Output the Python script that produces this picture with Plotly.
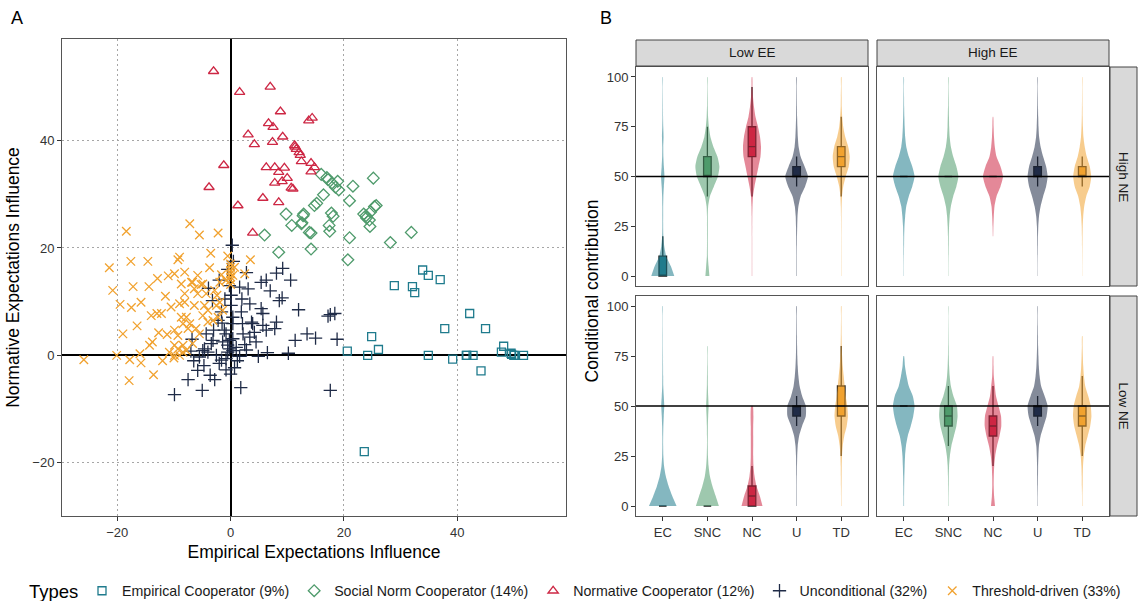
import plotly.graph_objects as go

W, H = 1141, 601
FONT = "Liberation Sans"

# ---------------- data: panel A (scatter) ----------------
TYPES = ["Empirical Cooperator (9%)", "Social Norm Cooperator (14%)",
         "Normative Cooperator (12%)", "Unconditional (32%)", "Threshold-driven (33%)"]
LEGEND_TITLE = "Types"
CODES = ["EC", "SNC", "NC", "U", "TD"]

ec_x = [33.9, 34.9, 37.0, 28.9, 32.1, 32.5, 42.2, 37.8, 45.0, 24.9, 26.1, 20.6, 24.2, 34.9,
        39.2, 41.6, 42.8, 44.2, 48.2, 47.8, 49.5, 50.0, 51.7, 49.6, 23.6, 50.1, 41.7]
ec_y = [15.9, 14.9, 14.1, 13.0, 12.8, 11.7, 7.8, 5.0, 5.0, 3.5, 1.1, 0.8, 0.0, 0.0,
        -0.7, 0.0, 0.0, -2.9, 1.7, 0.6, 0.4, 0.0, 0.0, 0.2, -17.9, 0.0, 0.0]

snc_x = [16.0, 17.2, 17.9, 18.9, 18.5, 19.1, 21.6, 25.2, 16.4, 14.8, 21.0, 12.8, 12.5, 17.8,
         18.1, 17.4, 17.5, 14.2, 14.2, 21.0, 20.7, 23.5, 23.9, 24.7, 25.4, 25.7, 24.5, 24.6,
         28.2, 31.9, 9.8, 10.8, 6.0, 8.5, 13.9, 12.9, 12.6, 17.0, 24.0, 15.2]
snc_y = [33.7, 32.7, 32.1, 32.4, 31.3, 30.8, 31.5, 33.0, 29.9, 27.9, 28.8, 26.0, 24.5, 26.5,
         25.9, 24.2, 23.1, 22.8, 19.8, 21.9, 17.8, 26.3, 26.0, 26.7, 27.7, 27.9, 25.2, 24.0,
         21.0, 22.9, 26.3, 24.2, 22.4, 19.2, 22.9, 26.3, 24.7, 33.1, 25.6, 28.3]

nc_x = [-3.0, 1.6, 7.0, 8.8, 6.7, 7.5, 9.2, 3.1, 4.2, 7.4, 11.3, 11.6, 12.1, 12.5, -1.2, -3.8,
        1.3, 3.9, 6.3, 7.8, 9.5, 8.5, 10.0, 9.1, 7.8, 10.7, 11.0, 5.7, 8.5, 13.8, 14.4, 14.2,
        14.8, 14.2, 11.4, 12.3]
nc_y = [52.9, 49.0, 50.0, 45.4, 43.2, 42.5, 40.7, 41.1, 39.3, 39.7, 39.1, 38.4, 37.8, 36.1,
        35.4, 31.3, 27.9, 22.8, 35.0, 35.0, 34.9, 34.1, 33.0, 32.4, 32.1, 31.2, 31.0, 29.3,
        28.5, 43.7, 44.2, 35.8, 35.0, 34.2, 38.8, 37.3]

u_x = [-9.9, -5.0, 1.8, -3.6, -5.8, -4.7, -0.8, 0.7, -5.5, -4.0, -1.6, -0.8, 1.6, 4.9, 10.2,
       11.4, -0.2, -0.5, 0.4, -2.5, -4.6, -3.4, -4.3, -3.0, -1.4, -1.1, 0.4, 2.2, 3.4, 4.2,
       6.3, 7.8, 8.1, 5.7, 3.9, 2.1, 0.4, 0.4, 1.9, 3.4, 3.1, 5.7, 5.4, 3.7, -1.6, -2.2, 0.1,
       0.1, -0.2, 1.6, 8.6, 9.1, 5.4, 6.3, -0.8, -0.2, -0.5, -3.1, -4.9, 17.2, 17.6, 18.4,
       18.8, 17.6, 0.3, 0.5, 2.8, 8.1, 9.2, 10.6, -3.9, -3.2, -1.0, 1.0, 2.8, -2.0, -6.5,
       -7.5, -2.8, 0.0, 2.5, 1.2, -1.5, 4.5, 6.5, 13.5, 15.0, -6.8, -7.0, 2.0, 7.0, 12.0,
       -2.0, -0.5]
u_y = [-7.3, -6.5, -6.0, -3.7, -2.8, -1.9, -2.7, -2.3, -0.3, 0.6, -0.9, -0.6, -0.2, -0.2, 0.4,
       2.8, 1.2, 0.6, 0.9, 0.0, 1.2, 2.2, 4.0, 4.7, 2.5, 4.7, 3.1, 4.0, 3.4, 4.3,
       4.7, 5.0, 6.2, 5.6, 5.9, 5.9, 5.9, 7.1, 8.1, 9.6, 12.4, 7.8, 8.7, 6.2, 8.1, 6.5, 9.3,
       11.2, 13.0, 12.7, 10.2, 10.7, 13.6, 14.0, 4.0, 2.8, 1.9, 2.8, 0.9, 7.3, 7.6, 7.8,
       3.0, -6.5, 20.5, 17.5, 15.4, 15.3, 16.2, 14.0, 12.5, 10.2, 10.5, 1.5, 1.0, -1.5, -1.0,
       -4.5, -4.5, -3.5, 2.0, -1.0, 6.0, 2.5, 0.5, 4.0, 3.2, 3.0, 0.8, 10.5, 12.0, 8.5,
       14.0, 16.0]

td_x = [-18.4, -7.2, -5.5, -2.2, 3.5, -21.4, -17.6, -14.6, -9.3, -9.0, -12.9, -9.9, -8.1, -5.8,
        -3.7, -1.6, -6.7, -5.2, -8.7, -17.2, -14.4, 0.0, 0.0, 0.0, 0.0, 0.0, 0.0, 0.7, 0.4, 2.5,
        -20.8, -17.5, -15.8, -14.0, -13.0, -12.2, -12.7, -11.2, -14.3, -13.8, -20.1, -17.8,
        -15.8, -25.9, -17.9, -13.6, -10.8, -9.9, -9.0, -8.4, -9.9, -8.4, -9.9, -9.3, -8.4,
        -7.2, -7.5, -6.7, -5.5, -8.7, -7.8, -9.0, -8.1, -6.4, -8.1, -5.8, -4.9, -4.3, -4.6,
        -4.0, -4.9, -2.8, -2.4, -1.9, -2.5, -3.1, -2.2, -1.4, -4.0, -6.1, -7.8, -9.3, -0.8,
        -1.9, -6.9, -6.4, -11.5, -19.5, -16.5, -10.5, -11.0, -3.5, -0.5, 0.0, -16.0, -12.0,
        -10.0, -19.0]
td_y = [23.1, 24.5, 22.4, 22.8, 17.8, 16.3, 17.5, 17.5, 17.8, 18.3, 14.3, 15.2, 15.5, 14.9,
        16.3, 15.0, 13.6, 13.2, 13.3, 12.8, 12.8, 17.0, 16.4, 15.8, 15.2, 14.6, 14.0, 16.4, 14.9,
        15.2, 12.1, 8.9, 9.9, 7.4, 7.8, 7.8, 4.2, 3.9, 1.9, 2.5, 0.0, -0.8,
        -1.4, -0.8, -4.7, -3.6, 0.6, 0.0, 0.0, 0.6, 1.9, 1.9, 4.7, 3.7, 5.9,
        5.9, 5.0, 2.2, 4.0, 7.1, 7.1, 9.6, 9.9, 9.3, 11.5, 11.5, 13.3, 11.5, 9.3,
        8.4, 7.4, 12.1, 11.2, 9.9, 9.3, 6.5, 7.1, 8.4, 6.2, 5.0, 0.9, 1.2, 14.0,
        13.6, 13.6, 12.4, 11.0, 9.5, 5.5, 9.0, 14.8, 19.0, 18.5, 13.2, 0.3, -1.0,
        -0.5, 4.0]

# ---------------- data: panel B (violins + boxes) ----------------
FACET_COLS = ["Low EE", "High EE"]
FACET_ROWS = ["High NE", "Low NE"]
GRID = [0, 5, 10, 15, 20, 25, 30, 35, 40, 45, 50, 55, 60, 65, 70, 75, 80, 85, 90, 95, 100]

# density profiles (relative half-width) on GRID, per facet and type
dens_lowEE_highNE = {
    "EC":  [11.5, 8, 3.5, 1.5, 0.6, 0.4, 0.4, 0.4, 0.6, 1.1, 1.7, 1.1, 0.6, 0.5, 0.8, 0.5, 0.3, 0.25, 0.2, 0.15, 0.15],
    "SNC": [2, 1.2, 0.5, 0.4, 0.4, 0.4, 0.4, 0.8, 2.5, 6.5, 10.5, 12, 10, 6, 3, 1.5, 0.7, 0.4, 0.3, 0.2, 0.15],
    "NC":  [0.2, 0.2, 0.2, 0.2, 0.2, 0.25, 0.3, 0.5, 1, 2.5, 4.5, 6.5, 8.5, 9, 8, 6, 3.5, 2, 1, 0.5, 0.25],
    "U":   [0.25, 0.25, 0.25, 0.3, 0.4, 0.6, 0.9, 1.8, 4, 8.5, 11.3, 8, 4, 2, 1.2, 0.8, 0.5, 0.4, 0.3, 0.25, 0.2],
    "TD":  [0.15, 0.15, 0.15, 0.15, 0.15, 0.2, 0.25, 0.4, 0.8, 2, 4.5, 7.5, 8.5, 7, 4, 2, 1, 0.5, 0.4, 0.25, 0.2],
}
dens_highEE_highNE = {
    "EC":  [0.15, 0.15, 0.2, 0.3, 0.4, 0.7, 1.4, 2.5, 5, 8.5, 10.8, 8.5, 5, 2.5, 1.4, 0.9, 0.6, 0.4, 0.3, 0.2, 0.15],
    "SNC": [0.15, 0.15, 0.2, 0.3, 0.4, 0.7, 1.3, 2.5, 4.8, 8, 10, 8, 4.8, 2.5, 1.3, 0.8, 0.6, 0.4, 0.3, 0.2, 0.15],
    "NC":  [0, 0, 0, 0, 0.2, 0.4, 0.8, 1.5, 3.5, 7.5, 10, 7.5, 3.5, 1.8, 1, 0.6, 0.2, 0, 0, 0, 0],
    "U":   [0.15, 0.15, 0.2, 0.3, 0.4, 0.7, 1.4, 3, 5.5, 8.5, 10, 8.5, 5.5, 3, 1.5, 0.9, 0.6, 0.4, 0.3, 0.2, 0.15],
    "TD":  [0.1, 0.1, 0.15, 0.2, 0.3, 0.5, 1, 2, 4, 7.5, 9, 7.5, 4.5, 2.5, 1.2, 0.7, 0.4, 0.3, 0.2, 0.15, 0.1],
}
dens_lowEE_lowNE = {
    "EC":  [13.8, 9.5, 5.8, 3, 1.3, 0.6, 0.4, 0.4, 0.6, 1.0, 1.5, 1.0, 0.5, 0.4, 0.3, 0.25, 0.2, 0.2, 0.15, 0.15, 0.15],
    "SNC": [11.5, 8.3, 5, 2.5, 1.2, 0.6, 0.4, 0.4, 0.5, 0.8, 1.2, 0.8, 0.5, 0.4, 0.3, 0.2, 0.15, 0, 0, 0, 0],
    "NC":  [10.5, 7.8, 4.5, 2.5, 1.5, 1.2, 1.2, 1.2, 1.2, 1.4, 0.8, 0, 0, 0, 0, 0, 0, 0, 0, 0, 0],
    "U":   [0.25, 0.25, 0.25, 0.3, 0.4, 0.6, 1.1, 2.5, 5.5, 9.2, 9.2, 5.5, 3, 1.8, 1.1, 0.7, 0.5, 0.4, 0.3, 0.25, 0.2],
    "TD":  [0.2, 0.2, 0.3, 0.4, 0.5, 0.8, 1.5, 3, 5.5, 6.7, 6, 4.5, 3.5, 2.5, 1.5, 0.9, 0.6, 0.4, 0.3, 0.2, 0.2],
}
dens_highEE_lowNE = {
    "EC":  [0.3, 0.3, 0.4, 0.6, 0.9, 1.3, 2.2, 4, 7, 9.5, 10.8, 9, 5, 2.8, 1.2, 0.3, 0, 0, 0, 0, 0],
    "SNC": [0.2, 0.2, 0.3, 0.4, 0.7, 1.5, 3, 5.5, 8, 9.2, 8.5, 5, 2.5, 1.3, 0.7, 0.4, 0.3, 0.2, 0.15, 0.1, 0.1],
    "NC":  [2, 1.1, 0.7, 0.8, 1.2, 2.2, 4, 6.5, 8.3, 8, 5.5, 3, 1.8, 0.8, 0.5, 0.2, 0, 0, 0, 0, 0],
    "U":   [0.2, 0.2, 0.3, 0.4, 0.5, 0.8, 1.3, 3, 6, 9, 10, 7, 3.5, 2, 1.2, 0.8, 0.5, 0.4, 0.3, 0.2, 0.15],
    "TD":  [0.2, 0.2, 0.4, 0.5, 0.8, 1.5, 3, 5.5, 8, 9.2, 8.5, 6, 3, 1.7, 1, 0.6, 0.35, 0.2, 0, 0, 0],
}

# box statistics per facet: [lower whisker, q1, median, q3, upper whisker] per type (EC, SNC, NC, U, TD)
box_lowEE_highNE = [[0, 0, 0, 10, 20], [40, 50, 50, 60, 75], [40, 60, 65, 75, 95], [45, 50, 50, 55, 60], [40, 55, 60, 65, 80]]
box_highEE_highNE = [[50, 50, 50, 50, 50], [50, 50, 50, 50, 50], [50, 50, 50, 50, 50], [45, 50, 50, 55, 60], [45, 50, 50, 55, 60]]
box_lowEE_lowNE = [[0, 0, 0, 0, 0], [0, 0, 0, 0, 0], [0, 0, 5, 10, 20], [40, 45, 50, 50, 55], [25, 45, 50, 60, 80]]
box_highEE_lowNE = [[50, 50, 50, 50, 50], [30, 40, 45, 50, 60], [20, 35, 40, 45, 60], [40, 45, 50, 50, 55], [25, 40, 45, 50, 65]]

REF_LINE = 50
Y_TICKS_B = [0, 25, 50, 75, 100]
X_TICKS_A = [-20, 0, 20, 40]

# ---------------- styles ----------------
COLORS = ["#1f7b8d", "#4f9b6c", "#cd2744", "#1f2b47", "#f1a22f"]
SYMBOLS = ["square-open", "diamond-open", "triangle-up-open", "cross-thin-open", "x-thin-open"]
SIZES = [8, 9, 9, 9.5, 8.5]
PX_PER_UNIT = 44.6   # facet x-axis: pixels per category unit
BOX_W = 0.17


def px_x(p):
    return p / W


def px_y(p):
    return 1 - p / H


def rgba(hexc, a):
    h = hexc.lstrip("#")
    return "rgba(%d,%d,%d,%.2f)" % (int(h[0:2], 16), int(h[2:4], 16), int(h[4:6], 16), a)


fig = go.Figure()

# ---- panel A ----
series = [(ec_x, ec_y), (snc_x, snc_y), (nc_x, nc_y), (u_x, u_y), (td_x, td_y)]
for i, (xs, ys) in enumerate(series):
    fig.add_trace(go.Scatter(
        x=xs, y=ys, mode="markers", name=TYPES[i],
        marker=dict(symbol=SYMBOLS[i], size=SIZES[i], color=COLORS[i],
                    line=dict(width=1.3, color=COLORS[i])),
        xaxis="x", yaxis="y", hoverinfo="skip"))

# ---- panel B ----
facets = [
    ("x2", "y2", dens_lowEE_highNE, box_lowEE_highNE),
    ("x3", "y3", dens_highEE_highNE, box_highEE_highNE),
    ("x4", "y4", dens_lowEE_lowNE, box_lowEE_lowNE),
    ("x5", "y5", dens_highEE_lowNE, box_highEE_lowNE),
]
for xa, ya, dens, boxes in facets:
    for i, code in enumerate(CODES):
        pos = i + 1
        pts = [(v, d) for v, d in zip(GRID, dens[code]) if d > 0]
        vs = [p[0] for p in pts]
        hw = [p[1] / PX_PER_UNIT for p in pts]
        xs = [pos + h for h in hw] + [pos - h for h in reversed(hw)]
        ys = vs + vs[::-1]
        fig.add_trace(go.Scatter(
            x=xs, y=ys, mode="lines", fill="toself",
            fillcolor=rgba(COLORS[i], 0.55),
            line=dict(width=0, shape="spline", smoothing=0.6, color=rgba(COLORS[i], 0.55)),
            xaxis=xa, yaxis=ya, showlegend=False, hoverinfo="skip"))
    for i, code in enumerate(CODES):
        lo, q1, med, q3, hi = boxes[i]
        fig.add_trace(go.Box(
            x=[i + 1], lowerfence=[lo], q1=[q1], median=[med], q3=[q3], upperfence=[hi],
            width=BOX_W, fillcolor=COLORS[i], line=dict(color="#1a1a1a", width=1.3),
            whiskerwidth=0, boxpoints=False, xaxis=xa, yaxis=ya,
            showlegend=False, hoverinfo="skip"))

# ---------------- layout ----------------
tickfont = dict(family=FONT, size=13, color="#333333")
titlefont = dict(family=FONT, size=17.5, color="#000000")

A_X = [px_x(62), px_x(566)]
A_Y = [px_y(516), px_y(39)]
COL1 = [px_x(636), px_x(868)]
COL2 = [px_x(877), px_x(1109)]
ROW1 = [px_y(286), px_y(67)]
ROW2 = [px_y(516), px_y(296)]

GRID_STYLE = dict(showgrid=True, gridcolor="#a6a6a6", griddash="1.5px,3.5px", gridwidth=1.3)

layout = dict(
    width=W, height=H, margin=dict(l=0, r=0, t=0, b=0, autoexpand=False),
    paper_bgcolor="white", plot_bgcolor="white",
    font=dict(family=FONT, color="#000000"),
    boxmode="overlay",
    xaxis=dict(domain=A_X, range=[-29.75, 59.2], tickvals=X_TICKS_A, ticks="outside", ticklen=4,
               tickcolor="#333333", tickfont=tickfont, zeroline=True, zerolinecolor="#000000",
               zerolinewidth=1.6, showline=True, mirror=True, linecolor="#555555", linewidth=1,
               title=dict(text="Empirical Expectations Influence", font=titlefont, standoff=7),
               anchor="y", automargin=False, **GRID_STYLE),
    yaxis=dict(domain=A_Y, range=[-29.9, 58.9], tickvals=X_TICKS_A, ticks="outside", ticklen=4,
               tickcolor="#333333", tickfont=tickfont, zeroline=True, zerolinecolor="#000000",
               zerolinewidth=1.6, showline=True, mirror=True, linecolor="#555555", linewidth=1,
               title=dict(text="Normative Expectations Influence", font=titlefont, standoff=8),
               anchor="x", automargin=False, **GRID_STYLE),
    legend=dict(orientation="h", x=px_x(1126), xanchor="right", y=px_y(591), yanchor="middle",
                font=dict(family=FONT, size=14.2, color="#1a1a1a"),
                bgcolor="rgba(0,0,0,0)", itemclick=False, itemdoubleclick=False),
)

facet_axes = [("xaxis2", "yaxis2", COL1, ROW1, False, True),
              ("xaxis3", "yaxis3", COL2, ROW1, False, False),
              ("xaxis4", "yaxis4", COL1, ROW2, True, True),
              ("xaxis5", "yaxis5", COL2, ROW2, True, False)]
for xk, yk, xd, yd, show_x, show_y in facet_axes:
    xn = xk.replace("axis", "")
    yn = yk.replace("axis", "")
    layout[xk] = dict(domain=xd, range=[0.4, 5.6], anchor=yn,
                      tickvals=[1, 2, 3, 4, 5], ticktext=CODES if show_x else [""] * 5,
                      ticks="outside" if show_x else "", ticklen=4, tickcolor="#333333",
                      tickfont=tickfont, showgrid=False, zeroline=False, automargin=False,
                      showline=True, mirror=True, linecolor="#555555", linewidth=1)
    layout[yk] = dict(domain=yd, range=[-5, 105], anchor=xn,
                      tickvals=Y_TICKS_B, ticktext=[str(v) for v in Y_TICKS_B] if show_y else [""] * 5,
                      ticks="outside" if show_y else "", ticklen=4, tickcolor="#333333",
                      tickfont=tickfont, showgrid=False, zeroline=False, automargin=False,
                      showline=True, mirror=True, linecolor="#555555", linewidth=1)

fig.update_layout(**layout)

# reference lines at 50
for xn, yn in [("x2", "y2"), ("x3", "y3"), ("x4", "y4"), ("x5", "y5")]:
    fig.add_shape(type="line", xref=xn + " domain", x0=0, x1=1, yref=yn, y0=REF_LINE, y1=REF_LINE,
                  line=dict(color="#000000", width=1.6), layer="above")

# strips
STRIP_FILL = "#d9d9d9"
STRIP_LINE = "#444444"
for label, xd in zip(FACET_COLS, [COL1, COL2]):
    fig.add_shape(type="rect", xref="paper", yref="paper", x0=xd[0], x1=xd[1],
                  y0=px_y(66), y1=px_y(40), fillcolor=STRIP_FILL, line=dict(color=STRIP_LINE, width=1))
    fig.add_annotation(x=(xd[0] + xd[1]) / 2, y=(px_y(66) + px_y(40)) / 2, xref="paper", yref="paper",
                       xanchor="center", yanchor="middle",
                       text=label, showarrow=False, font=dict(family=FONT, size=13.5, color="#1a1a1a"))
for label, yd in zip(FACET_ROWS, [ROW1, ROW2]):
    fig.add_shape(type="rect", xref="paper", yref="paper", x0=px_x(1110), x1=px_x(1137),
                  y0=yd[0], y1=yd[1], fillcolor=STRIP_FILL, line=dict(color=STRIP_LINE, width=1))
    fig.add_annotation(x=(px_x(1110) + px_x(1137)) / 2, y=(yd[0] + yd[1]) / 2, xref="paper", yref="paper",
                       xanchor="center", yanchor="middle",
                       text=label, textangle=90, showarrow=False,
                       font=dict(family=FONT, size=13.5, color="#1a1a1a"))

# legend title
fig.add_annotation(x=px_x(53), y=px_y(591), xref="paper", yref="paper",
                   xanchor="center", yanchor="middle", text=LEGEND_TITLE, showarrow=False,
                   font=dict(family=FONT, size=18.5, color="#000000"))
# panel B y title
fig.add_annotation(x=px_x(591), y=(ROW2[0] + ROW1[1]) / 2, xref="paper", yref="paper",
                   xanchor="center", yanchor="middle",
                   text="Conditional contribution", textangle=-90, showarrow=False,
                   font=titlefont)
# panel tags
fig.add_annotation(x=px_x(17), y=px_y(18), xref="paper", yref="paper", text="A", showarrow=False,
                   xanchor="center", yanchor="middle",
                   font=dict(family=FONT, size=18, color="#000000"))
fig.add_annotation(x=px_x(606), y=px_y(18), xref="paper", yref="paper", text="B", showarrow=False,
                   xanchor="center", yanchor="middle",
                   font=dict(family=FONT, size=18, color="#000000"))

fig.write_html("out.html")
